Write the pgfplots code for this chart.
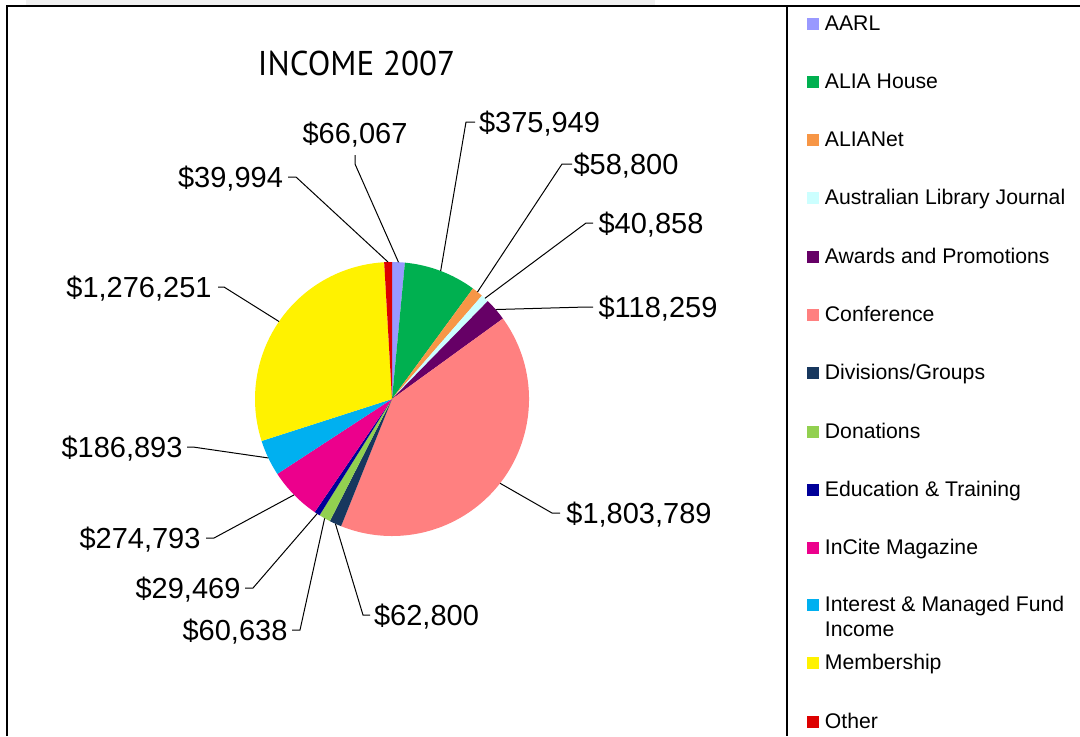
\documentclass[border=0pt]{standalone}
\usepackage{pgfplots}
\pgfplotsset{compat=1.18}
\usepackage{pgfplotstable}
\usepackage{graphicx}
\usepackage{fontspec}
\setmainfont{Liberation Sans}
\newfontfamily\titlefont{PT Sans}

\definecolor{c0}{HTML}{9999FF}
\definecolor{c1}{HTML}{00B050}
\definecolor{c2}{HTML}{F79646}
\definecolor{c3}{HTML}{CCFFFF}
\definecolor{c4}{HTML}{660066}
\definecolor{c5}{HTML}{FF8080}
\definecolor{c6}{HTML}{17375E}
\definecolor{c7}{HTML}{92D050}
\definecolor{c8}{HTML}{000099}
\definecolor{c9}{HTML}{EC008C}
\definecolor{c10}{HTML}{00B0F0}
\definecolor{c11}{HTML}{FFF200}
\definecolor{c12}{HTML}{DD0000}

\newcommand\lblfont{\fontsize{14.5}{17}\selectfont}
\newcommand\legfont{\fontsize{10.6}{12.5}\selectfont}

% values, label base point (cx,by), leader elbow (ex,ey), leader end (fx,fy), label x-scale
% positions in pixel units of the 1080 x 736 frame (y downwards)
\pgfplotstableread{
value    cx     by   ex   ey   fx   fy   sx
66067    355    143  355  164  355  155  1
375949   539.5  132  466  122  475  122  1
58800    626    174  562  164  572  164  1
40858    651    233  586  223  593  223  1
118259   658    317  586  307  593  307  1
1803789  639    523  552  513  560  513  1
62800    426.5  625  363  615  370  615  1
60638    235    640  300  630  292  630  1
29469    188    598  253  588  245  588  1
274793   140    548  214  538  206  538  1
186893   122    457  193  447  187  447  1
1276251  139    297  224  287  218  287  1
39994    230.5  187  296  177  288  177  1
}\incometable

\def\total{0}
\pgfplotsforeachungrouped \i in {0,...,12}{%
  \pgfplotstablegetelem{\i}{value}\of\incometable
  \xdef\total{\fpeval{\total+\pgfplotsretval}}%
}

\begin{document}
\begin{tikzpicture}
\useasboundingbox (0,0) rectangle (540pt,368pt);
\begin{axis}[
  hide axis, scale only axis,
  anchor=south west, at={(0,0)},
  x=0.5pt, y=0.5pt,
  xmin=0, xmax=1080, ymin=0, ymax=736,
  y dir=reverse, clip=false,
]
\xdef\cum{0}
\pgfplotsforeachungrouped \i in {0,...,12}{%
  \pgfplotstablegetelem{\i}{value}\of\incometable \let\myv\pgfplotsretval
  \pgfplotstablegetelem{\i}{cx}\of\incometable \let\mycx\pgfplotsretval
  \pgfplotstablegetelem{\i}{by}\of\incometable \let\myby\pgfplotsretval
  \pgfplotstablegetelem{\i}{ex}\of\incometable \let\myex\pgfplotsretval
  \pgfplotstablegetelem{\i}{ey}\of\incometable \let\myey\pgfplotsretval
  \pgfplotstablegetelem{\i}{fx}\of\incometable \let\myfx\pgfplotsretval
  \pgfplotstablegetelem{\i}{fy}\of\incometable \let\myfy\pgfplotsretval
  \pgfplotstablegetelem{\i}{sx}\of\incometable \let\mysx\pgfplotsretval
  \edef\ma{\fpeval{90-360*\cum/\total}}%
  \edef\mb{\fpeval{90-360*(\cum+\myv)/\total}}%
  \edef\mm{\fpeval{(\ma+\mb)/2}}%
  \xdef\cum{\fpeval{\cum+\myv}}%
  \edef\temp{%
    \noexpand\fill[c\i] (axis cs:392,399) -- ++(\ma:68.5pt) arc[start angle=\ma, end angle=\mb, radius=68.5pt] -- cycle;
    \noexpand\draw[black, line width=0.5pt] (axis cs:392,399) ++(\mm:68.5pt) -- (axis cs:\myex,\myey) -- (axis cs:\myfx,\myfy);
    \noexpand\node[anchor=base, inner sep=0pt, font=\noexpand\lblfont] at (axis cs:\mycx,\myby)
      {\noexpand\scalebox{\mysx}[1]{\noexpand\$\noexpand\pgfmathprintnumber[fixed, precision=0, 1000 sep={,}, assume math mode=true]{\myv}}};
  }\temp
}
\end{axis}
\begin{scope}[shift={(0,368pt)}, x=0.5pt, y=-0.5pt]
  \fill[black!6] (26,0) rectangle (655,5);
  \draw[line width=1pt] (7,736) -- (7,6) -- (1080,6);
  \draw[line width=1pt] (787,6) -- (787,736);
  \node[font=\titlefont\fontsize{17.2}{20}\selectfont, inner sep=0pt] at (356.5,63) {\scalebox{0.96}[1]{INCOME 2007}};
  \foreach \name/\yy [count=\k from 0] in {AARL/23.5, {ALIA House}/81.7, ALIANet/140, {Australian Library Journal}/198.3, {Awards and Promotions}/256.6, Conference/314.9, {Divisions/Groups}/373.2, Donations/431.5, {Education \& Training}/489.8, {InCite Magazine}/548.1, {Interest \& Managed Fund}/604.5, Membership/663, Other/721.5}{
    \fill[c\k] (807,\yy-6) rectangle (819,\yy+6);
    \node[anchor=base west, inner sep=0pt, font=\legfont] at (824.5,\yy+6.5) {\name};
  }
  \node[anchor=base west, inner sep=0pt, font=\legfont] at (824.5,636) {Income};
\end{scope}
\end{tikzpicture}
\end{document}
